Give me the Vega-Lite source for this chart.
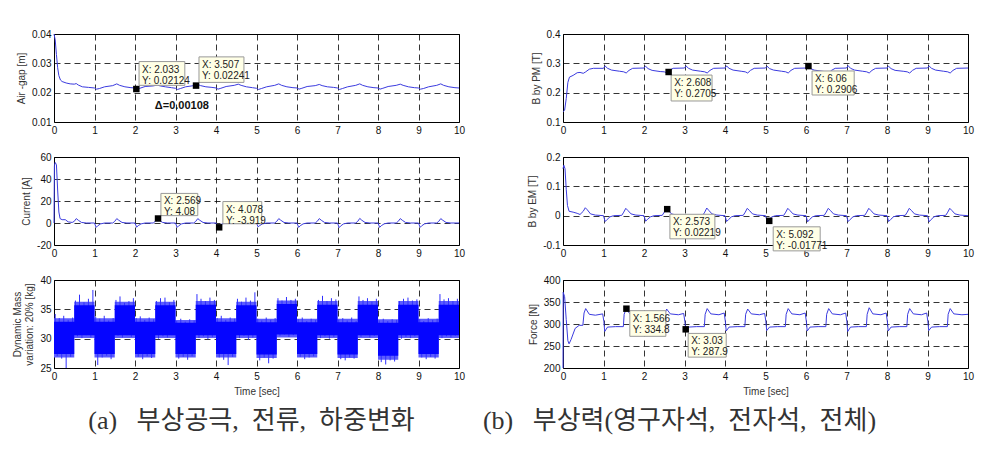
{
"$schema":"https://vega.github.io/schema/vega-lite/v6.json",
"padding":{"left":12,"top":28,"right":0,"bottom":0},
"background":"white",
"config":{
 "locale":{"number":{"decimal":".","thousands":",","grouping":[3],"currency":["$",""],"minus":"-"}},
 "view":{"stroke":"#000","strokeWidth":1},
 "axis":{"grid":true,"gridColor":"#000","gridDash":[6,4],"gridOpacity":1,"gridWidth":0.8,"domain":false,"ticks":false,"labelFont":"Liberation Sans","labelFontSize":10,"labelColor":"#111","labelPadding":3,"titleFont":"Liberation Sans","titleFontSize":10,"titleFontWeight":"normal","titleColor":"#333","titlePadding":5,"labelFlush":false,"labelOverlap":false,"tickCount":12},
 "title":{"font":"Liberation Serif, Noto Sans CJK KR","fontSize":26,"fontWeight":"normal","color":"#333","orient":"bottom","anchor":"middle","offset":12}
},
"datasets":{
"ag":[{"t":0,"v":0.04},{"t":0.03,"v":0.038},{"t":0.06,"v":0.033},{"t":0.09,"v":0.0285},{"t":0.12,"v":0.0258},{"t":0.16,"v":0.0243},{"t":0.2,"v":0.0238},{"t":0.3,"v":0.0233},{"t":0.4,"v":0.023},{"t":0.5,"v":0.0229},{"t":0.55,"v":0.0231},{"t":0.6,"v":0.0226},{"t":0.7,"v":0.022},{"t":0.85,"v":0.0218},{"t":1,"v":0.0216},
{"t":1.05,"v":0.0212},{"t":1.12,"v":0.0214},{"t":1.25,"v":0.022},{"t":1.45,"v":0.0224},{"t":1.55,"v":0.023},{"t":1.62,"v":0.0225},{"t":1.75,"v":0.022},{"t":1.9,"v":0.0217},{"t":2,"v":0.0216},
{"t":2.05,"v":0.0212},{"t":2.12,"v":0.0215},{"t":2.25,"v":0.0221},{"t":2.45,"v":0.0223},{"t":2.55,"v":0.0226},{"t":2.62,"v":0.0223},{"t":2.75,"v":0.022},{"t":2.9,"v":0.0217},{"t":3,"v":0.0215},
{"t":3.05,"v":0.0211},{"t":3.12,"v":0.0214},{"t":3.25,"v":0.022},{"t":3.45,"v":0.0224},{"t":3.55,"v":0.0228},{"t":3.62,"v":0.0224},{"t":3.75,"v":0.022},{"t":3.9,"v":0.0218},{"t":4,"v":0.0216},
{"t":4.05,"v":0.0212},{"t":4.12,"v":0.0215},{"t":4.25,"v":0.0221},{"t":4.45,"v":0.0225},{"t":4.55,"v":0.0229},{"t":4.62,"v":0.0225},{"t":4.75,"v":0.022},{"t":4.9,"v":0.0217},{"t":5,"v":0.0215},
{"t":5.05,"v":0.0211},{"t":5.12,"v":0.0214},{"t":5.25,"v":0.022},{"t":5.45,"v":0.0225},{"t":5.55,"v":0.023},{"t":5.62,"v":0.0225},{"t":5.75,"v":0.022},{"t":5.9,"v":0.0217},{"t":6,"v":0.0216},
{"t":6.05,"v":0.0212},{"t":6.12,"v":0.0215},{"t":6.25,"v":0.0221},{"t":6.45,"v":0.0224},{"t":6.55,"v":0.0228},{"t":6.62,"v":0.0224},{"t":6.75,"v":0.022},{"t":6.9,"v":0.0218},{"t":7,"v":0.0216},
{"t":7.05,"v":0.0211},{"t":7.12,"v":0.0214},{"t":7.25,"v":0.022},{"t":7.45,"v":0.0225},{"t":7.55,"v":0.023},{"t":7.62,"v":0.0225},{"t":7.75,"v":0.022},{"t":7.9,"v":0.0217},{"t":8,"v":0.0216},
{"t":8.05,"v":0.0212},{"t":8.12,"v":0.0215},{"t":8.25,"v":0.0221},{"t":8.45,"v":0.0225},{"t":8.55,"v":0.0229},{"t":8.62,"v":0.0225},{"t":8.75,"v":0.022},{"t":8.9,"v":0.0217},{"t":9,"v":0.0216},
{"t":9.05,"v":0.0212},{"t":9.12,"v":0.0214},{"t":9.25,"v":0.022},{"t":9.45,"v":0.0225},{"t":9.55,"v":0.023},{"t":9.62,"v":0.0225},{"t":9.75,"v":0.022},{"t":9.9,"v":0.0217},{"t":10,"v":0.0216}],
"cur":[{"t":0,"v":0},{"t":0.01,"v":52},{"t":0.03,"v":55},{"t":0.06,"v":53},{"t":0.09,"v":30},{"t":0.12,"v":10},{"t":0.15,"v":4},{"t":0.2,"v":3},{"t":0.28,"v":3},{"t":0.35,"v":1},{"t":0.45,"v":0.5},{"t":0.5,"v":1.5},{"t":0.55,"v":4},{"t":0.6,"v":2.5},{"t":0.68,"v":0.5},{"t":0.8,"v":0},{"t":1,"v":0},
{"t":1.04,"v":-4},{"t":1.08,"v":-2.5},{"t":1.15,"v":-0.8},{"t":1.25,"v":0},{"t":1.45,"v":0},{"t":1.5,"v":1.5},{"t":1.55,"v":4},{"t":1.6,"v":2.5},{"t":1.68,"v":0.5},{"t":1.8,"v":0},{"t":2,"v":0},
{"t":2.04,"v":-3.8},{"t":2.08,"v":-2.4},{"t":2.15,"v":-0.8},{"t":2.25,"v":0},{"t":2.45,"v":0},{"t":2.5,"v":1.5},{"t":2.55,"v":4.1},{"t":2.6,"v":2.5},{"t":2.68,"v":0.5},{"t":2.8,"v":0},{"t":3,"v":0},
{"t":3.04,"v":-4},{"t":3.08,"v":-2.5},{"t":3.15,"v":-0.8},{"t":3.25,"v":0},{"t":3.45,"v":0},{"t":3.5,"v":1.5},{"t":3.55,"v":4},{"t":3.6,"v":2.5},{"t":3.68,"v":0.5},{"t":3.8,"v":0},{"t":4,"v":0},
{"t":4.04,"v":-3.9},{"t":4.08,"v":-2.5},{"t":4.15,"v":-0.8},{"t":4.25,"v":0},{"t":4.45,"v":0},{"t":4.5,"v":1.5},{"t":4.55,"v":4},{"t":4.6,"v":2.5},{"t":4.68,"v":0.5},{"t":4.8,"v":0},{"t":5,"v":0},
{"t":5.04,"v":-3.5},{"t":5.08,"v":-2.3},{"t":5.15,"v":-0.8},{"t":5.25,"v":0},{"t":5.45,"v":0},{"t":5.5,"v":1.5},{"t":5.55,"v":4},{"t":5.6,"v":2.5},{"t":5.68,"v":0.5},{"t":5.8,"v":0},{"t":6,"v":0},
{"t":6.04,"v":-4},{"t":6.08,"v":-2.5},{"t":6.15,"v":-0.8},{"t":6.25,"v":0},{"t":6.45,"v":0},{"t":6.5,"v":1.5},{"t":6.55,"v":4},{"t":6.6,"v":2.5},{"t":6.68,"v":0.5},{"t":6.8,"v":0},{"t":7,"v":0},
{"t":7.04,"v":-4.2},{"t":7.08,"v":-2.6},{"t":7.15,"v":-0.8},{"t":7.25,"v":0},{"t":7.45,"v":0},{"t":7.5,"v":1.5},{"t":7.55,"v":4.2},{"t":7.6,"v":2.5},{"t":7.68,"v":0.5},{"t":7.8,"v":0},{"t":8,"v":0},
{"t":8.04,"v":-4},{"t":8.08,"v":-2.5},{"t":8.15,"v":-0.8},{"t":8.25,"v":0},{"t":8.45,"v":0},{"t":8.5,"v":1.5},{"t":8.55,"v":4},{"t":8.6,"v":2.5},{"t":8.68,"v":0.5},{"t":8.8,"v":0},{"t":9,"v":0},
{"t":9.04,"v":-4},{"t":9.08,"v":-2.5},{"t":9.15,"v":-0.8},{"t":9.25,"v":0},{"t":9.45,"v":0},{"t":9.5,"v":1.5},{"t":9.55,"v":4},{"t":9.6,"v":2.5},{"t":9.68,"v":0.5},{"t":9.8,"v":0},{"t":10,"v":0}],
"bpm":[{"t":0,"v":0.135},{"t":0.04,"v":0.14},{"t":0.08,"v":0.18},{"t":0.12,"v":0.235},{"t":0.16,"v":0.253},{"t":0.25,"v":0.259},{"t":0.35,"v":0.268},{"t":0.42,"v":0.269},{"t":0.5,"v":0.266},{"t":0.55,"v":0.27},{"t":0.65,"v":0.28},{"t":0.75,"v":0.283},{"t":1,"v":0.283},
{"t":1.04,"v":0.291},{"t":1.1,"v":0.283},{"t":1.2,"v":0.277},{"t":1.4,"v":0.273},{"t":1.5,"v":0.271},{"t":1.56,"v":0.267},{"t":1.63,"v":0.276},{"t":1.72,"v":0.283},{"t":2,"v":0.284},
{"t":2.04,"v":0.29},{"t":2.1,"v":0.282},{"t":2.2,"v":0.276},{"t":2.4,"v":0.272},{"t":2.5,"v":0.271},{"t":2.56,"v":0.268},{"t":2.63,"v":0.276},{"t":2.72,"v":0.283},{"t":3,"v":0.284},
{"t":3.04,"v":0.291},{"t":3.1,"v":0.283},{"t":3.2,"v":0.277},{"t":3.4,"v":0.273},{"t":3.5,"v":0.271},{"t":3.56,"v":0.267},{"t":3.63,"v":0.276},{"t":3.72,"v":0.283},{"t":4,"v":0.284},
{"t":4.04,"v":0.291},{"t":4.1,"v":0.283},{"t":4.2,"v":0.277},{"t":4.4,"v":0.273},{"t":4.5,"v":0.271},{"t":4.56,"v":0.267},{"t":4.63,"v":0.276},{"t":4.72,"v":0.283},{"t":5,"v":0.284},
{"t":5.04,"v":0.29},{"t":5.1,"v":0.282},{"t":5.2,"v":0.277},{"t":5.4,"v":0.273},{"t":5.5,"v":0.271},{"t":5.56,"v":0.267},{"t":5.63,"v":0.276},{"t":5.72,"v":0.283},{"t":6,"v":0.284},
{"t":6.04,"v":0.291},{"t":6.1,"v":0.283},{"t":6.2,"v":0.277},{"t":6.4,"v":0.273},{"t":6.5,"v":0.271},{"t":6.56,"v":0.267},{"t":6.63,"v":0.276},{"t":6.72,"v":0.283},{"t":7,"v":0.284},
{"t":7.04,"v":0.292},{"t":7.1,"v":0.283},{"t":7.2,"v":0.277},{"t":7.4,"v":0.273},{"t":7.5,"v":0.271},{"t":7.56,"v":0.267},{"t":7.63,"v":0.276},{"t":7.72,"v":0.283},{"t":8,"v":0.284},
{"t":8.04,"v":0.29},{"t":8.1,"v":0.282},{"t":8.2,"v":0.276},{"t":8.4,"v":0.273},{"t":8.5,"v":0.271},{"t":8.56,"v":0.267},{"t":8.63,"v":0.276},{"t":8.72,"v":0.283},{"t":9,"v":0.284},
{"t":9.04,"v":0.291},{"t":9.1,"v":0.283},{"t":9.2,"v":0.277},{"t":9.4,"v":0.273},{"t":9.5,"v":0.271},{"t":9.56,"v":0.267},{"t":9.63,"v":0.276},{"t":9.72,"v":0.283},{"t":10,"v":0.284}],
"bem":[{"t":0,"v":0.16},{"t":0.02,"v":0.172},{"t":0.05,"v":0.16},{"t":0.08,"v":0.09},{"t":0.11,"v":0.035},{"t":0.15,"v":0.015},{"t":0.25,"v":0.012},{"t":0.35,"v":0.008},{"t":0.42,"v":0.004},{"t":0.5,"v":0.015},{"t":0.55,"v":0.027},{"t":0.6,"v":0.02},{"t":0.68,"v":0.006},{"t":0.8,"v":0.002},{"t":1,"v":0},
{"t":1.04,"v":-0.02},{"t":1.09,"v":-0.013},{"t":1.16,"v":-0.004},{"t":1.25,"v":0},{"t":1.45,"v":0.001},{"t":1.5,"v":0.012},{"t":1.55,"v":0.025},{"t":1.6,"v":0.018},{"t":1.68,"v":0.006},{"t":1.8,"v":0.002},{"t":2,"v":0},
{"t":2.04,"v":-0.019},{"t":2.09,"v":-0.012},{"t":2.16,"v":-0.004},{"t":2.25,"v":0},{"t":2.45,"v":0.001},{"t":2.5,"v":0.012},{"t":2.55,"v":0.024},{"t":2.6,"v":0.018},{"t":2.68,"v":0.006},{"t":2.8,"v":0.002},{"t":3,"v":0},
{"t":3.04,"v":-0.02},{"t":3.09,"v":-0.013},{"t":3.16,"v":-0.004},{"t":3.25,"v":0},{"t":3.45,"v":0.001},{"t":3.5,"v":0.012},{"t":3.55,"v":0.026},{"t":3.6,"v":0.018},{"t":3.68,"v":0.006},{"t":3.8,"v":0.002},{"t":4,"v":0},
{"t":4.04,"v":-0.02},{"t":4.09,"v":-0.013},{"t":4.16,"v":-0.004},{"t":4.25,"v":0},{"t":4.45,"v":0.001},{"t":4.5,"v":0.012},{"t":4.55,"v":0.025},{"t":4.6,"v":0.018},{"t":4.68,"v":0.006},{"t":4.8,"v":0.002},{"t":5,"v":0},
{"t":5.04,"v":-0.018},{"t":5.09,"v":-0.012},{"t":5.16,"v":-0.004},{"t":5.25,"v":0},{"t":5.45,"v":0.001},{"t":5.5,"v":0.012},{"t":5.55,"v":0.025},{"t":5.6,"v":0.018},{"t":5.68,"v":0.006},{"t":5.8,"v":0.002},{"t":6,"v":0},
{"t":6.04,"v":-0.021},{"t":6.09,"v":-0.013},{"t":6.16,"v":-0.004},{"t":6.25,"v":0},{"t":6.45,"v":0.001},{"t":6.5,"v":0.012},{"t":6.55,"v":0.025},{"t":6.6,"v":0.018},{"t":6.68,"v":0.006},{"t":6.8,"v":0.002},{"t":7,"v":0},
{"t":7.04,"v":-0.02},{"t":7.09,"v":-0.013},{"t":7.16,"v":-0.004},{"t":7.25,"v":0},{"t":7.45,"v":0.001},{"t":7.5,"v":0.012},{"t":7.55,"v":0.025},{"t":7.6,"v":0.018},{"t":7.68,"v":0.006},{"t":7.8,"v":0.002},{"t":8,"v":0},
{"t":8.04,"v":-0.02},{"t":8.09,"v":-0.013},{"t":8.16,"v":-0.004},{"t":8.25,"v":0},{"t":8.45,"v":0.001},{"t":8.5,"v":0.012},{"t":8.55,"v":0.025},{"t":8.6,"v":0.018},{"t":8.68,"v":0.006},{"t":8.8,"v":0.002},{"t":9,"v":0},
{"t":9.04,"v":-0.021},{"t":9.09,"v":-0.013},{"t":9.16,"v":-0.004},{"t":9.25,"v":0},{"t":9.45,"v":0.001},{"t":9.5,"v":0.012},{"t":9.55,"v":0.025},{"t":9.6,"v":0.018},{"t":9.68,"v":0.006},{"t":9.8,"v":0.002},{"t":10,"v":0}],
"frc":[{"t":0,"v":200},{"t":0.005,"v":372},{"t":0.04,"v":362},{"t":0.08,"v":310},{"t":0.12,"v":262},{"t":0.15,"v":255},{"t":0.2,"v":265},{"t":0.3,"v":290},{"t":0.4,"v":297},{"t":0.49,"v":297},{"t":0.52,"v":325},{"t":0.56,"v":335},{"t":0.65,"v":322},{"t":0.8,"v":320},{"t":0.98,"v":323},
{"t":1.01,"v":305},{"t":1.03,"v":283},{"t":1.1,"v":293},{"t":1.3,"v":294},{"t":1.49,"v":294},{"t":1.51,"v":322},{"t":1.56,"v":335},{"t":1.65,"v":323},{"t":1.85,"v":321},{"t":1.98,"v":325},
{"t":2.01,"v":305},{"t":2.03,"v":284},{"t":2.1,"v":293},{"t":2.3,"v":294},{"t":2.49,"v":295},{"t":2.51,"v":322},{"t":2.56,"v":334},{"t":2.65,"v":323},{"t":2.85,"v":321},{"t":2.98,"v":324},
{"t":3.01,"v":305},{"t":3.03,"v":288},{"t":3.1,"v":293},{"t":3.3,"v":294},{"t":3.49,"v":294},{"t":3.51,"v":322},{"t":3.56,"v":335},{"t":3.65,"v":323},{"t":3.85,"v":321},{"t":3.98,"v":325},
{"t":4.01,"v":305},{"t":4.03,"v":284},{"t":4.1,"v":293},{"t":4.3,"v":294},{"t":4.49,"v":294},{"t":4.51,"v":322},{"t":4.56,"v":334},{"t":4.65,"v":323},{"t":4.85,"v":321},{"t":4.98,"v":324},
{"t":5.01,"v":305},{"t":5.03,"v":285},{"t":5.1,"v":293},{"t":5.3,"v":294},{"t":5.49,"v":294},{"t":5.51,"v":322},{"t":5.56,"v":335},{"t":5.65,"v":323},{"t":5.85,"v":321},{"t":5.98,"v":325},
{"t":6.01,"v":305},{"t":6.03,"v":284},{"t":6.1,"v":293},{"t":6.3,"v":294},{"t":6.49,"v":294},{"t":6.51,"v":322},{"t":6.56,"v":335},{"t":6.65,"v":323},{"t":6.85,"v":321},{"t":6.98,"v":325},
{"t":7.01,"v":305},{"t":7.03,"v":283},{"t":7.1,"v":293},{"t":7.3,"v":294},{"t":7.49,"v":294},{"t":7.51,"v":322},{"t":7.56,"v":337},{"t":7.65,"v":323},{"t":7.85,"v":321},{"t":7.98,"v":325},
{"t":8.01,"v":305},{"t":8.03,"v":284},{"t":8.1,"v":293},{"t":8.3,"v":294},{"t":8.49,"v":294},{"t":8.51,"v":322},{"t":8.56,"v":335},{"t":8.65,"v":323},{"t":8.85,"v":321},{"t":8.98,"v":325},
{"t":9.01,"v":305},{"t":9.03,"v":285},{"t":9.1,"v":293},{"t":9.3,"v":294},{"t":9.49,"v":294},{"t":9.51,"v":322},{"t":9.56,"v":335},{"t":9.65,"v":323},{"t":9.85,"v":321},{"t":10,"v":322}],
"mb":[{"t":0,"lo":27.4,"hi":32.9,"flo":26.8,"fhi":33.5},{"t":0.5,"lo":30.6,"hi":35.7,"flo":30.1,"fhi":36.3},{"t":1,"lo":27.4,"hi":32.9,"flo":26.8,"fhi":33.5},{"t":1.5,"lo":30.6,"hi":35.7,"flo":30.1,"fhi":36.3},{"t":2,"lo":27.4,"hi":32.9,"flo":26.8,"fhi":33.5},{"t":2.5,"lo":30.6,"hi":35.7,"flo":30.1,"fhi":36.3},{"t":3,"lo":27.4,"hi":32.7,"flo":26.8,"fhi":33.2},{"t":3.5,"lo":30.6,"hi":35.8,"flo":30.1,"fhi":36.4},{"t":4,"lo":27.4,"hi":32.9,"flo":26.8,"fhi":33.5},{"t":4.5,"lo":30.6,"hi":35.7,"flo":30.1,"fhi":36.3},{"t":5,"lo":27.3,"hi":32.8,"flo":26.7,"fhi":33.4},{"t":5.5,"lo":30.7,"hi":35.9,"flo":30.2,"fhi":36.5},{"t":6,"lo":27.4,"hi":32.8,"flo":26.8,"fhi":33.4},{"t":6.5,"lo":30.6,"hi":35.8,"flo":30.1,"fhi":36.4},{"t":7,"lo":27.3,"hi":32.8,"flo":26.7,"fhi":33.4},{"t":7.5,"lo":30.6,"hi":35.8,"flo":30.1,"fhi":36.4},{"t":8,"lo":27.1,"hi":32.7,"flo":26.4,"fhi":33.3},{"t":8.5,"lo":30.6,"hi":35.8,"flo":30.1,"fhi":36.4},{"t":9,"lo":27.4,"hi":32.8,"flo":26.8,"fhi":33.4},{"t":9.5,"lo":30.6,"hi":35.8,"flo":30.1,"fhi":36.4},{"t":10,"lo":30.6,"hi":35.8,"flo":30.1,"fhi":36.4}],
"ms":[
{"t":0.03,"a":32.6,"b":34.2},{"t":0.13,"a":32.6,"b":33.5},{"t":0.24,"a":32.6,"b":33.9},{"t":0.35,"a":32.6,"b":33.2},{"t":0.46,"a":32.6,"b":33.6},{"t":0.08,"a":27.8,"b":27.0},{"t":0.19,"a":27.8,"b":26.6},{"t":0.3,"a":27.8,"b":25.0},{"t":0.41,"a":27.8,"b":26.9},
{"t":0.53,"a":35.4,"b":36.5},{"t":0.63,"a":35.4,"b":37.5},{"t":0.74,"a":35.4,"b":36.2},{"t":0.85,"a":35.4,"b":36.8},{"t":0.96,"a":35.4,"b":38.3},{"t":0.58,"a":31,"b":30.4},{"t":0.69,"a":31,"b":30.1},{"t":0.8,"a":31,"b":30.6},{"t":0.91,"a":31,"b":30.2},
{"t":1.03,"a":32.6,"b":33.7},{"t":1.13,"a":32.6,"b":33.4},{"t":1.24,"a":32.6,"b":33.9},{"t":1.35,"a":32.6,"b":33.1},{"t":1.46,"a":32.6,"b":33.5},{"t":1.08,"a":27.8,"b":25.5},{"t":1.19,"a":27.8,"b":26.8},{"t":1.3,"a":27.8,"b":27.1},{"t":1.41,"a":27.8,"b":26.5},
{"t":1.53,"a":35.4,"b":36.6},{"t":1.63,"a":35.4,"b":37.2},{"t":1.74,"a":35.4,"b":36.1},{"t":1.85,"a":35.4,"b":36.4},{"t":1.96,"a":35.4,"b":36.9},{"t":1.58,"a":31,"b":30.5},{"t":1.69,"a":31,"b":30.2},{"t":1.8,"a":31,"b":30.6},{"t":1.91,"a":31,"b":30.3},
{"t":2.03,"a":32.6,"b":33.5},{"t":2.13,"a":32.6,"b":33.8},{"t":2.24,"a":32.6,"b":33.2},{"t":2.35,"a":32.6,"b":33.6},{"t":2.46,"a":32.6,"b":33.3},{"t":2.08,"a":27.8,"b":26.9},{"t":2.19,"a":27.8,"b":26.5},{"t":2.3,"a":27.8,"b":27.0},{"t":2.41,"a":27.8,"b":26.7},
{"t":2.53,"a":35.4,"b":36.4},{"t":2.63,"a":35.4,"b":36.9},{"t":2.74,"a":35.4,"b":37.0},{"t":2.85,"a":35.4,"b":36.2},{"t":2.96,"a":35.4,"b":36.6},{"t":2.58,"a":31,"b":30.0},{"t":2.69,"a":31,"b":30.4},{"t":2.8,"a":31,"b":30.2},{"t":2.91,"a":31,"b":30.6},
{"t":3.03,"a":32.6,"b":33.0},{"t":3.13,"a":32.6,"b":33.4},{"t":3.24,"a":32.6,"b":32.9},{"t":3.35,"a":32.6,"b":33.3},{"t":3.46,"a":32.6,"b":33.1},{"t":3.08,"a":27.8,"b":26.6},{"t":3.19,"a":27.8,"b":26.9},{"t":3.3,"a":27.8,"b":26.4},{"t":3.41,"a":27.8,"b":27.0},
{"t":3.53,"a":35.4,"b":37.6},{"t":3.63,"a":35.4,"b":36.8},{"t":3.74,"a":35.4,"b":36.4},{"t":3.85,"a":35.4,"b":37.0},{"t":3.96,"a":35.4,"b":36.6},{"t":3.58,"a":31,"b":30.1},{"t":3.69,"a":31,"b":30.4},{"t":3.8,"a":31,"b":29.9},{"t":3.91,"a":31,"b":30.3},
{"t":4.03,"a":32.6,"b":33.5},{"t":4.13,"a":32.6,"b":33.9},{"t":4.24,"a":32.6,"b":33.2},{"t":4.35,"a":32.6,"b":33.6},{"t":4.46,"a":32.6,"b":33.4},{"t":4.08,"a":27.8,"b":26.8},{"t":4.19,"a":27.8,"b":26.4},{"t":4.3,"a":27.8,"b":25.5},{"t":4.41,"a":27.8,"b":26.9},
{"t":4.53,"a":35.4,"b":36.8},{"t":4.63,"a":35.4,"b":36.3},{"t":4.74,"a":35.4,"b":37.0},{"t":4.85,"a":35.4,"b":36.5},{"t":4.96,"a":35.4,"b":37.9},{"t":4.58,"a":31,"b":30.1},{"t":4.69,"a":31,"b":30.5},{"t":4.8,"a":31,"b":29.8},{"t":4.91,"a":31,"b":30.2},
{"t":5.03,"a":32.6,"b":33.4},{"t":5.13,"a":32.6,"b":33.1},{"t":5.24,"a":32.6,"b":33.6},{"t":5.35,"a":32.6,"b":33.2},{"t":5.46,"a":32.6,"b":33.5},{"t":5.08,"a":27.8,"b":26.3},{"t":5.19,"a":27.8,"b":26.8},{"t":5.3,"a":27.8,"b":25.8},{"t":5.41,"a":27.8,"b":26.6},
{"t":5.53,"a":35.4,"b":36.9},{"t":5.63,"a":35.4,"b":36.5},{"t":5.74,"a":35.4,"b":37.1},{"t":5.85,"a":35.4,"b":36.6},{"t":5.96,"a":35.4,"b":36.8},{"t":5.58,"a":31,"b":30.5},{"t":5.69,"a":31,"b":30.7},{"t":5.8,"a":31,"b":30.3},{"t":5.91,"a":31,"b":30.6},
{"t":6.03,"a":32.6,"b":33.3},{"t":6.13,"a":32.6,"b":33.6},{"t":6.24,"a":32.6,"b":33.0},{"t":6.35,"a":32.6,"b":33.4},{"t":6.46,"a":32.6,"b":33.2},{"t":6.08,"a":27.8,"b":26.9},{"t":6.19,"a":27.8,"b":26.5},{"t":6.3,"a":27.8,"b":26.8},{"t":6.41,"a":27.8,"b":27.0},
{"t":6.53,"a":35.4,"b":36.6},{"t":6.63,"a":35.4,"b":37.3},{"t":6.74,"a":35.4,"b":36.4},{"t":6.85,"a":35.4,"b":36.9},{"t":6.96,"a":35.4,"b":36.7},{"t":6.58,"a":31,"b":30.1},{"t":6.69,"a":31,"b":30.4},{"t":6.8,"a":31,"b":30.0},{"t":6.91,"a":31,"b":30.3},
{"t":7.03,"a":32.6,"b":33.2},{"t":7.13,"a":32.6,"b":33.5},{"t":7.24,"a":32.6,"b":33.1},{"t":7.35,"a":32.6,"b":33.6},{"t":7.46,"a":32.6,"b":33.0},{"t":7.08,"a":27.8,"b":26.5},{"t":7.19,"a":27.8,"b":26.3},{"t":7.3,"a":27.8,"b":26.8},{"t":7.41,"a":27.8,"b":26.6},
{"t":7.53,"a":35.4,"b":37.2},{"t":7.63,"a":35.4,"b":36.6},{"t":7.74,"a":35.4,"b":36.9},{"t":7.85,"a":35.4,"b":36.3},{"t":7.96,"a":35.4,"b":36.8},{"t":7.58,"a":31,"b":30.3},{"t":7.69,"a":31,"b":30.6},{"t":7.8,"a":31,"b":30.2},{"t":7.91,"a":31,"b":30.5},
{"t":8.03,"a":32.6,"b":33.1},{"t":8.13,"a":32.6,"b":33.4},{"t":8.24,"a":32.6,"b":33.0},{"t":8.35,"a":32.6,"b":33.3},{"t":8.46,"a":32.6,"b":33.2},{"t":8.08,"a":27.8,"b":26.0},{"t":8.19,"a":27.8,"b":25.6},{"t":8.3,"a":27.8,"b":26.3},{"t":8.41,"a":27.8,"b":26.1},
{"t":8.53,"a":35.4,"b":36.4},{"t":8.63,"a":35.4,"b":36.8},{"t":8.74,"a":35.4,"b":37.0},{"t":8.85,"a":35.4,"b":36.5},{"t":8.96,"a":35.4,"b":36.7},{"t":8.58,"a":31,"b":30.0},{"t":8.69,"a":31,"b":30.3},{"t":8.8,"a":31,"b":30.1},{"t":8.91,"a":31,"b":30.4},
{"t":9.03,"a":32.6,"b":33.3},{"t":9.13,"a":32.6,"b":33.0},{"t":9.24,"a":32.6,"b":33.5},{"t":9.35,"a":32.6,"b":33.2},{"t":9.46,"a":32.6,"b":33.4},{"t":9.08,"a":27.8,"b":26.8},{"t":9.19,"a":27.8,"b":26.5},{"t":9.3,"a":27.8,"b":26.9},{"t":9.41,"a":27.8,"b":26.6},
{"t":9.53,"a":35.4,"b":37.6},{"t":9.63,"a":35.4,"b":36.7},{"t":9.74,"a":35.4,"b":36.9},{"t":9.85,"a":35.4,"b":36.4},{"t":9.96,"a":35.4,"b":36.8},{"t":9.58,"a":31,"b":30.1},{"t":9.69,"a":31,"b":30.4},{"t":9.8,"a":31,"b":30.2},{"t":9.91,"a":31,"b":30.5}],
"tips":[
{"p":"a1","x":2.033,"y":0.02124,"x0":2.1,"x1":3.23,"y0":0.0306,"y1":0.0225,"lab":"X: 2.033\nY: 0.02124"},
{"p":"a1","x":3.507,"y":0.02241,"x0":3.58,"x1":4.69,"y0":0.0322,"y1":0.0235,"lab":"X: 3.507\nY: 0.02241"},
{"p":"a2","x":2.569,"y":4.08,"x0":2.64,"x1":3.55,"y0":26.9,"y1":6.7,"lab":"X: 2.569\nY: 4.08"},
{"p":"a2","x":4.078,"y":-3.919,"x0":4.17,"x1":5.13,"y0":19.5,"y1":-0.7,"lab":"X: 4.078\nY: -3.919"},
{"p":"b1","x":2.608,"y":0.2705,"x0":2.67,"x1":3.68,"y0":0.26,"y1":0.1716,"lab":"X: 2.608\nY: 0.2705"},
{"p":"b1","x":6.06,"y":0.2906,"x0":6.15,"x1":7.19,"y0":0.274,"y1":0.192,"lab":"X: 6.06\nY: 0.2906"},
{"p":"b2","x":2.573,"y":0.02219,"x0":2.64,"x1":3.75,"y0":0.0047,"y1":-0.079,"lab":"X: 2.573\nY: 0.02219"},
{"p":"b2","x":5.092,"y":-0.01771,"x0":5.19,"x1":6.35,"y0":-0.038,"y1":-0.12,"lab":"X: 5.092\nY: -0.01771"},
{"p":"b3","x":1.566,"y":334.8,"x0":1.65,"x1":2.54,"y0":330.3,"y1":272,"lab":"X: 1.566\nY: 334.8"},
{"p":"b3","x":3.03,"y":287.9,"x0":3.09,"x1":4.03,"y0":278.6,"y1":224.7,"lab":"X: 3.03\nY: 287.9"}],
"ann":[{"t":2.49,"v":0.0154,"s":"Δ=0.00108"}]
},
"columns":2,
"bounds":"flush",
"spacing":{"row":35,"column":104},
"concat":[
 {"width":405,"height":88,"layer":[
  {"data":{"name":"ag"},"mark":{"type":"line","color":"#3b3bdf","strokeWidth":1},
   "encoding":{"x":{"field":"t","type":"quantitative","scale":{"domain":[0,10],"nice":false},"axis":{"values":[0,1,2,3,4,5,6,7,8,9,10],"format":"d","title":null}},
    "y":{"field":"v","type":"quantitative","scale":{"domain":[0.01,0.04],"nice":false,"zero":false},"axis":{"values":[0.01,0.02,0.03,0.04],"format":"~g","title":"Air -gap [m]"}}}},
  {"data":{"name":"tips"},"transform":[{"filter":"datum.p=='a1'"}],"mark":{"type":"rect","fill":"#ffffe6","stroke":"#999999","strokeWidth":1},
   "encoding":{"x":{"field":"x0","type":"quantitative"},"x2":{"field":"x1"},"y":{"field":"y0","type":"quantitative"},"y2":{"field":"y1"}}},
  {"data":{"name":"tips"},"transform":[{"filter":"datum.p=='a1'"}],"mark":{"type":"text","align":"left","baseline":"top","dx":3,"dy":3,"fontSize":10,"lineBreak":"\n","lineHeight":11,"font":"Liberation Sans","color":"#222"},
   "encoding":{"x":{"field":"x0","type":"quantitative"},"y":{"field":"y0","type":"quantitative"},"text":{"field":"lab"}}},
  {"data":{"name":"tips"},"transform":[{"filter":"datum.p=='a1'"}],"mark":{"type":"square","filled":true,"color":"#000","size":42,"opacity":1},
   "encoding":{"x":{"field":"x","type":"quantitative"},"y":{"field":"y","type":"quantitative"}}},
  {"data":{"name":"ann"},"mark":{"type":"text","align":"left","baseline":"middle","fontSize":11,"fontWeight":"bold","font":"Liberation Sans","color":"#111"},
   "encoding":{"x":{"field":"t","type":"quantitative"},"y":{"field":"v","type":"quantitative"},"text":{"field":"s"}}}
 ]},
 {"width":405,"height":88,"layer":[
  {"data":{"name":"bpm"},"mark":{"type":"line","color":"#3b3bdf","strokeWidth":1},
   "encoding":{"x":{"field":"t","type":"quantitative","scale":{"domain":[0,10],"nice":false},"axis":{"values":[0,1,2,3,4,5,6,7,8,9,10],"format":"d","title":null}},
    "y":{"field":"v","type":"quantitative","scale":{"domain":[0.1,0.4],"nice":false,"zero":false},"axis":{"values":[0.1,0.2,0.3,0.4],"format":"~g","title":"B by PM [T]"}}}},
  {"data":{"name":"tips"},"transform":[{"filter":"datum.p=='b1'"}],"mark":{"type":"rect","fill":"#ffffe6","stroke":"#999999","strokeWidth":1},
   "encoding":{"x":{"field":"x0","type":"quantitative"},"x2":{"field":"x1"},"y":{"field":"y0","type":"quantitative"},"y2":{"field":"y1"}}},
  {"data":{"name":"tips"},"transform":[{"filter":"datum.p=='b1'"}],"mark":{"type":"text","align":"left","baseline":"top","dx":3,"dy":3,"fontSize":10,"lineBreak":"\n","lineHeight":11,"font":"Liberation Sans","color":"#222"},
   "encoding":{"x":{"field":"x0","type":"quantitative"},"y":{"field":"y0","type":"quantitative"},"text":{"field":"lab"}}},
  {"data":{"name":"tips"},"transform":[{"filter":"datum.p=='b1'"}],"mark":{"type":"square","filled":true,"color":"#000","size":42,"opacity":1},
   "encoding":{"x":{"field":"x","type":"quantitative"},"y":{"field":"y","type":"quantitative"}}}
 ]},
 {"width":405,"height":88,"layer":[
  {"data":{"name":"cur"},"mark":{"type":"line","color":"#3b3bdf","strokeWidth":1},
   "encoding":{"x":{"field":"t","type":"quantitative","scale":{"domain":[0,10],"nice":false},"axis":{"values":[0,1,2,3,4,5,6,7,8,9,10],"format":"d","title":null}},
    "y":{"field":"v","type":"quantitative","scale":{"domain":[-20,60],"nice":false,"zero":false},"axis":{"values":[-20,0,20,40,60],"format":"d","title":"Current [A]"}}}},
  {"data":{"name":"tips"},"transform":[{"filter":"datum.p=='a2'"}],"mark":{"type":"rect","fill":"#ffffe6","stroke":"#999999","strokeWidth":1},
   "encoding":{"x":{"field":"x0","type":"quantitative"},"x2":{"field":"x1"},"y":{"field":"y0","type":"quantitative"},"y2":{"field":"y1"}}},
  {"data":{"name":"tips"},"transform":[{"filter":"datum.p=='a2'"}],"mark":{"type":"text","align":"left","baseline":"top","dx":3,"dy":3,"fontSize":10,"lineBreak":"\n","lineHeight":11,"font":"Liberation Sans","color":"#222"},
   "encoding":{"x":{"field":"x0","type":"quantitative"},"y":{"field":"y0","type":"quantitative"},"text":{"field":"lab"}}},
  {"data":{"name":"tips"},"transform":[{"filter":"datum.p=='a2'"}],"mark":{"type":"square","filled":true,"color":"#000","size":42,"opacity":1},
   "encoding":{"x":{"field":"x","type":"quantitative"},"y":{"field":"y","type":"quantitative"}}}
 ]},
 {"width":405,"height":88,"layer":[
  {"data":{"name":"bem"},"mark":{"type":"line","color":"#3b3bdf","strokeWidth":1},
   "encoding":{"x":{"field":"t","type":"quantitative","scale":{"domain":[0,10],"nice":false},"axis":{"values":[0,1,2,3,4,5,6,7,8,9,10],"format":"d","title":null}},
    "y":{"field":"v","type":"quantitative","scale":{"domain":[-0.1,0.2],"nice":false,"zero":false},"axis":{"values":[-0.1,0,0.1,0.2],"format":"~g","title":"B by EM [T]"}}}},
  {"data":{"name":"tips"},"transform":[{"filter":"datum.p=='b2'"}],"mark":{"type":"rect","fill":"#ffffe6","stroke":"#999999","strokeWidth":1},
   "encoding":{"x":{"field":"x0","type":"quantitative"},"x2":{"field":"x1"},"y":{"field":"y0","type":"quantitative"},"y2":{"field":"y1"}}},
  {"data":{"name":"tips"},"transform":[{"filter":"datum.p=='b2'"}],"mark":{"type":"text","align":"left","baseline":"top","dx":3,"dy":3,"fontSize":10,"lineBreak":"\n","lineHeight":11,"font":"Liberation Sans","color":"#222"},
   "encoding":{"x":{"field":"x0","type":"quantitative"},"y":{"field":"y0","type":"quantitative"},"text":{"field":"lab"}}},
  {"data":{"name":"tips"},"transform":[{"filter":"datum.p=='b2'"}],"mark":{"type":"square","filled":true,"color":"#000","size":42,"opacity":1},
   "encoding":{"x":{"field":"x","type":"quantitative"},"y":{"field":"y","type":"quantitative"}}}
 ]},
 {"width":405,"height":88,
  "title":{"text":"(a)\u00a0\u00a0\u00a0부상공극,\u00a0\u00a0전류,\u00a0\u00a0하중변화","dx":-5},
  "layer":[
  {"data":{"name":"mb"},"mark":{"type":"area","interpolate":"step-after","color":"#5c5cff","opacity":1},
   "encoding":{"x":{"field":"t","type":"quantitative","scale":{"domain":[0,10],"nice":false},"axis":{"values":[0,1,2,3,4,5,6,7,8,9,10],"format":"d","title":"Time [sec]"}},
    "y":{"field":"flo","type":"quantitative","scale":{"domain":[25,40],"nice":false,"zero":false},"axis":{"values":[25,30,35,40],"format":"d","title":["Dynamic Mass","variation: 20% [kg]"]}},"y2":{"field":"fhi"}}},
  {"data":{"name":"ms"},"mark":{"type":"rule","color":"#3030ff","strokeWidth":1},
   "encoding":{"x":{"field":"t","type":"quantitative"},"y":{"field":"a","type":"quantitative"},"y2":{"field":"b"}}},
  {"data":{"name":"mb"},"mark":{"type":"area","interpolate":"step-after","color":"#0505ff","opacity":1},
   "encoding":{"x":{"field":"t","type":"quantitative"},"y":{"field":"lo","type":"quantitative"},"y2":{"field":"hi"}}}
 ]},
 {"width":405,"height":88,
  "title":{"text":"(b)\u00a0\u00a0\u00a0부상력(영구자석,\u00a0\u00a0전자석,\u00a0\u00a0전체)","dx":-86},
  "layer":[
  {"data":{"name":"frc"},"mark":{"type":"line","color":"#3b3bdf","strokeWidth":1},
   "encoding":{"x":{"field":"t","type":"quantitative","scale":{"domain":[0,10],"nice":false},"axis":{"values":[0,1,2,3,4,5,6,7,8,9,10],"format":"d","title":"Time [sec]"}},
    "y":{"field":"v","type":"quantitative","scale":{"domain":[200,400],"nice":false,"zero":false},"axis":{"values":[200,250,300,350,400],"format":"d","title":"Force [N]"}}}},
  {"data":{"name":"tips"},"transform":[{"filter":"datum.p=='b3'"}],"mark":{"type":"rect","fill":"#ffffe6","stroke":"#999999","strokeWidth":1},
   "encoding":{"x":{"field":"x0","type":"quantitative"},"x2":{"field":"x1"},"y":{"field":"y0","type":"quantitative"},"y2":{"field":"y1"}}},
  {"data":{"name":"tips"},"transform":[{"filter":"datum.p=='b3'"}],"mark":{"type":"text","align":"left","baseline":"top","dx":3,"dy":3,"fontSize":10,"lineBreak":"\n","lineHeight":11,"font":"Liberation Sans","color":"#222"},
   "encoding":{"x":{"field":"x0","type":"quantitative"},"y":{"field":"y0","type":"quantitative"},"text":{"field":"lab"}}},
  {"data":{"name":"tips"},"transform":[{"filter":"datum.p=='b3'"}],"mark":{"type":"square","filled":true,"color":"#000","size":42,"opacity":1},
   "encoding":{"x":{"field":"x","type":"quantitative"},"y":{"field":"y","type":"quantitative"}}}
 ]}
]
}
